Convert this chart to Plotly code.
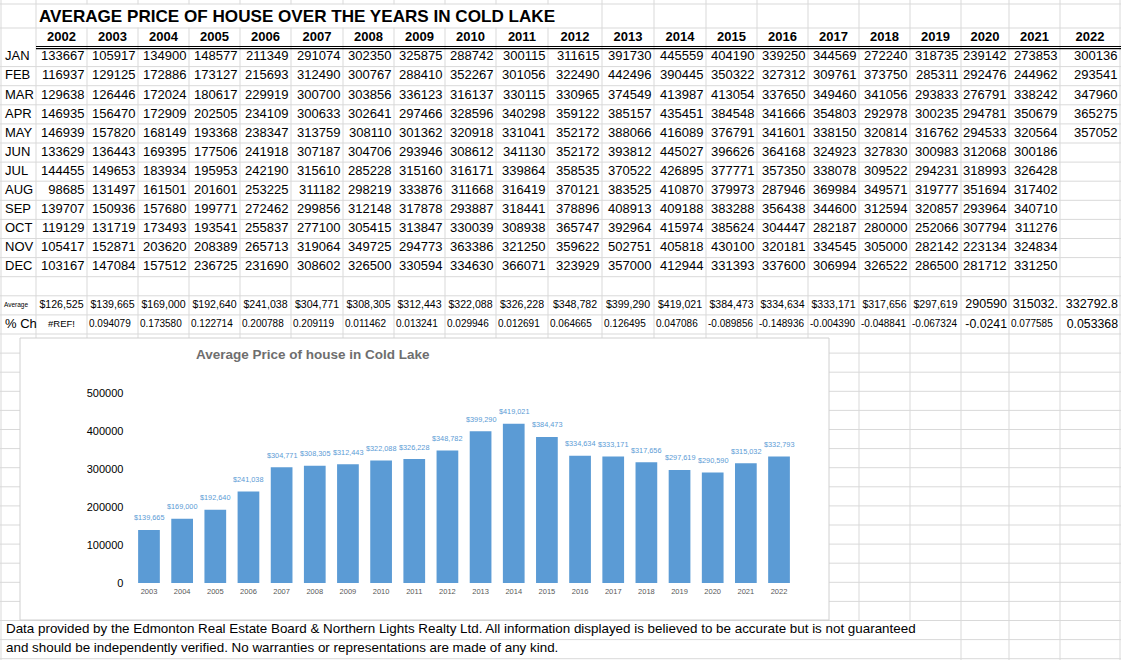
import plotly.graph_objects as go

# spreadsheet: average price of a house in Cold Lake
W, H = 1121, 660

sheet_title = "AVERAGE PRICE OF HOUSE OVER THE YEARS IN COLD LAKE"
chart_title = "Average Price of house in Cold Lake"
footer_lines = [
    "Data provided by the Edmonton Real Estate Board & Northern Lights Realty Ltd. All information displayed is believed to be accurate but is not guaranteed",
    "and should be independently verified. No warranties or representations are made of any kind.",
]

years = ["2002", "2003", "2004", "2005", "2006", "2007", "2008", "2009", "2010", "2011", "2012",
         "2013", "2014", "2015", "2016", "2017", "2018", "2019", "2020", "2021", "2022"]
months = ["JAN", "FEB", "MAR", "APR", "MAY", "JUN", "JUL", "AUG", "SEP", "OCT", "NOV", "DEC"]

jan = [133667, 105917, 134900, 148577, 211349, 291074, 302350, 325875, 288742, 300115, 311615,
       391730, 445559, 404190, 339250, 344569, 272240, 318735, 239142, 273853, 300136]
feb = [116937, 129125, 172886, 173127, 215693, 312490, 300767, 288410, 352267, 301056, 322490,
       442496, 390445, 350322, 327312, 309761, 373750, 285311, 292476, 244962, 293541]
mar = [129638, 126446, 172024, 180617, 229919, 300700, 303856, 336123, 316137, 330115, 330965,
       374549, 413987, 413054, 337650, 349460, 341056, 293833, 276791, 338242, 347960]
apr = [146935, 156470, 172909, 202505, 234109, 300633, 302641, 297466, 328596, 340298, 359122,
       385157, 435451, 384548, 341666, 354803, 292978, 300235, 294781, 350679, 365275]
may = [146939, 157820, 168149, 193368, 238347, 313759, 308110, 301362, 320918, 331041, 352172,
       388066, 416089, 376791, 341601, 338150, 320814, 316762, 294533, 320564, 357052]
jun = [133629, 136443, 169395, 177506, 241918, 307187, 304706, 293946, 308612, 341130, 352172,
       393812, 445027, 396626, 364168, 324923, 327830, 300983, 312068, 300186, None]
jul = [144455, 149653, 183934, 195953, 242190, 315610, 285228, 315160, 316171, 339864, 358535,
       370522, 426895, 377771, 357350, 338078, 309522, 294231, 318993, 326428, None]
aug = [98685, 131497, 161501, 201601, 253225, 311182, 298219, 333876, 311668, 316419, 370121,
       383525, 410870, 379973, 287946, 369984, 349571, 319777, 351694, 317402, None]
sep = [139707, 150936, 157680, 199771, 272462, 299856, 312148, 317878, 293887, 318441, 378896,
       408913, 409188, 383288, 356438, 344600, 312594, 320857, 293964, 340710, None]
oct_ = [119129, 131719, 173493, 193541, 255837, 277100, 305415, 313847, 330039, 308938, 365747,
        392964, 415974, 385624, 304447, 282187, 280000, 252066, 307794, 311276, None]
nov = [105417, 152871, 203620, 208389, 265713, 319064, 349725, 294773, 363386, 321250, 359622,
       502751, 405818, 430100, 320181, 334545, 305000, 282142, 223134, 324834, None]
dec = [103167, 147084, 157512, 236725, 231690, 308602, 326500, 330594, 334630, 366071, 323929,
       357000, 412944, 331393, 337600, 306994, 326522, 286500, 281712, 331250, None]
monthly = [jan, feb, mar, apr, may, jun, jul, aug, sep, oct_, nov, dec]

avg_values = [126525, 139665, 169000, 192640, 241038, 304771, 308305, 312443, 322088, 326228, 348782,
              399290, 419021, 384473, 334634, 333171, 317656, 297619, 290590.17, 315032.17, 332792.8]
avg_labels = ["$126,525", "$139,665", "$169,000", "$192,640", "$241,038", "$304,771", "$308,305",
              "$312,443", "$322,088", "$326,228", "$348,782", "$399,290", "$419,021", "$384,473",
              "$334,634", "$333,171", "$317,656", "$297,619", "290590", "315032.", "332792.8"]
pct_labels = ["#REF!", "0.094079", "0.173580", "0.122714", "0.200788", "0.209119", "0.011462",
              "0.013241", "0.029946", "0.012691", "0.064665", "0.126495", "0.047086", "-0.089856",
              "-0.148936", "-0.004390", "-0.048841", "-0.067324", "-0.0241", "0.077585", "0.053368"]

# sheet geometry in pixels
col_edges = [36, 87, 138, 189, 240, 291, 343, 394, 445, 496, 548, 602,
             654, 706, 757, 808, 859, 910, 961, 1009, 1060, 1120]
row0, row_h = 47.5, 19.1
FONT = "Liberation Sans, Arial, sans-serif"
GRID = "#d9d9d9"
BLUE = "#5b9bd5"


def row_y(k):
    return row0 + row_h * (k + 0.5)


def px(x):
    return x / W


def py(y):
    return 1 - y / H


shapes = []
# vertical cell lines
for x in [1] + col_edges:
    shapes.append(dict(type="line", xref="paper", yref="paper", x0=px(x), x1=px(x), y0=py(0), y1=py(H),
                       line=dict(color=GRID, width=1), layer="below"))
# text overflowing cells hides the lines
for x0, x1, y0, y1 in [(37.5, 601, 4.5, 27.5), (2, 958, 621, 660)]:
    shapes.append(dict(type="rect", xref="paper", yref="paper", x0=px(x0), x1=px(x1), y0=py(y0), y1=py(y1),
                       fillcolor="white", line=dict(width=0), layer="below"))
# horizontal cell lines
for y in [4, 28] + [row0 + row_h * k for k in range(1, 33)]:
    shapes.append(dict(type="line", xref="paper", yref="paper", x0=0, x1=1, y0=py(y), y1=py(y),
                       line=dict(color=GRID, width=1), layer="below"))
# double border under the year header
for y in [46.5, 48.7]:
    shapes.append(dict(type="line", xref="paper", yref="paper", x0=px(36), x1=1, y0=py(y), y1=py(y),
                       line=dict(color="black", width=1.2), layer="below"))
# chart area
shapes.append(dict(type="rect", xref="paper", yref="paper", x0=px(20), x1=px(829), y0=py(338), y1=py(620),
                   fillcolor="white", line=dict(color="#d0d0d0", width=1), layer="below"))

fig = go.Figure()

chart_years = years[1:]
chart_values = avg_values[1:]
fig.add_trace(go.Bar(
    x=chart_years, y=chart_values, marker_color=BLUE, marker_line_width=0,
    xaxis="x", yaxis="y", hoverinfo="skip",
))

# ---- sheet text on a pixel axis ----
def cell_text(xs, ys, texts, pos, size, color="black", weight="normal"):
    fig.add_trace(go.Scatter(
        x=xs, y=ys, text=texts, mode="text", textposition=pos,
        textfont=dict(family=FONT, size=size, color=color, weight=weight),
        xaxis="x2", yaxis="y2", hoverinfo="skip", cliponaxis=False,
    ))

# year header
cell_text([(col_edges[i] + col_edges[i + 1]) / 2 for i in range(len(years))], [37.5] * len(years),
          years, "middle center", 13, weight="bold")
# month labels
cell_text([5] * len(months), [row_y(k) for k in range(len(months))], months, "middle right", 13)
# monthly prices
xs, ys, ts = [], [], []
for k, row in enumerate(monthly):
    for i, v in enumerate(row):
        if v is not None:
            xs.append(col_edges[i + 1] - 2.5)
            ys.append(row_y(k))
            ts.append(str(v))
cell_text(xs, ys, ts, "middle left", 13)

# average row
cell_text([4], [row_y(13)], ["Average"], "middle right", 6.5)
cell_text([(col_edges[i] + col_edges[i + 1]) / 2 for i in range(18)], [row_y(13)] * 18,
          avg_labels[:18], "middle center", 10.6)
cell_text([col_edges[i + 1] - 2 for i in range(18, 21)], [row_y(13)] * 3,
          avg_labels[18:], "middle left", 12.5)

# % change row
cell_text([5], [row_y(14)], ["% Ch"], "middle right", 13)
cell_text([(col_edges[0] + col_edges[1]) / 2], [row_y(14)], [pct_labels[0]], "middle center", 9.5)
small = [i for i in range(1, 21) if i not in (18, 20)]
cell_text([col_edges[i] + 2 for i in small], [row_y(14)] * len(small),
          [pct_labels[i] for i in small], "middle right", 10)
cell_text([col_edges[i + 1] - 2 for i in (18, 20)], [row_y(14)] * 2,
          [pct_labels[18], pct_labels[20]], "middle left", 12.3)

# footer
cell_text([6, 6], [630, 649], footer_lines, "middle right", 13.4)
# sheet title
cell_text([39], [17.5], [sheet_title], "middle right", 17.1, weight="bold")

annotations = [dict(
    xref="paper", yref="paper", x=px(313), y=py(354), text=chart_title, showarrow=False,
    xanchor="center", yanchor="middle",
    font=dict(family=FONT, size=13.5, color="#6e6e6e", weight="bold"),
)]
# data labels above the bars (x given as category index)
for i, v in enumerate(chart_values):
    annotations.append(dict(
        x=i, y=v, xref="x", yref="y", text="$" + f"{v:,.0f}", showarrow=False,
        yshift=12, xanchor="center", yanchor="middle",
        font=dict(family=FONT, size=7.3, color=BLUE),
    ))

fig.update_layout(
    width=W, height=H, margin=dict(l=0, r=0, t=0, b=0, autoexpand=False),
    paper_bgcolor="white", plot_bgcolor="rgba(0,0,0,0)",
    showlegend=False, bargap=0.345,
    shapes=shapes, annotations=annotations,
    xaxis=dict(domain=[px(132.4), px(795.6)], anchor="y", type="category",
               range=[-0.5, len(chart_years) - 0.5], automargin=False,
               showgrid=False, showline=False, zeroline=False, ticks="",
               tickfont=dict(family=FONT, size=7.5, color="#595959"), ticklabelstandoff=2),
    yaxis=dict(domain=[py(583), py(393)], anchor="x", range=[0, 500000], automargin=False,
               tickvals=[0, 100000, 200000, 300000, 400000, 500000],
               ticktext=["0", "100000", "200000", "300000", "400000", "500000"],
               showgrid=False, showline=False, zeroline=False, ticks="",
               tickfont=dict(family=FONT, size=11, color="black"), ticklabelstandoff=8),
    xaxis2=dict(domain=[0, 1], range=[0, W], anchor="y2", visible=False, automargin=False),
    yaxis2=dict(domain=[0, 1], range=[H, 0], anchor="x2", visible=False, automargin=False),
)

# the page body has a default margin; drop it so the figure fills the window
fig.write_html("out.html", config={"displayModeBar": False},
               post_script="document.body.style.margin = '0';")
